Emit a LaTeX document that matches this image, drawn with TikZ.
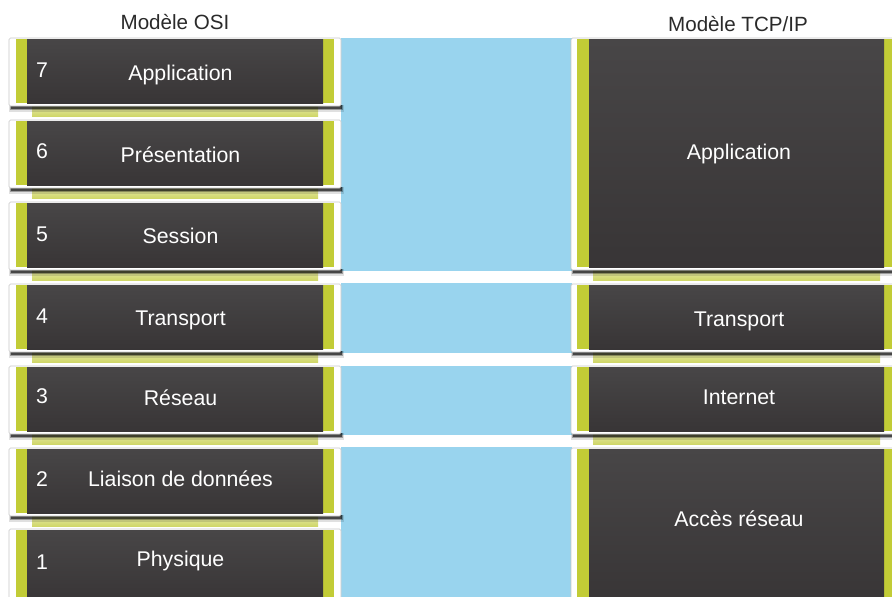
\documentclass[tikz,border=0pt]{standalone}
\usepackage{fontspec}
\setmainfont{Liberation Sans}
\begin{document}
\begin{tikzpicture}[x=1pt,y=-1pt,
  band/.style={fill=bandblue},
  lbl/.style={text=white,font=\fontsize{21.3}{25}\selectfont,inner sep=0pt,anchor=base},
  num/.style={lbl,anchor=base west},
  head/.style={text=headgray,font=\fontsize{20.6}{24}\selectfont,inner sep=0pt,anchor=base}]
\definecolor{bandblue}{HTML}{99D4EE}
\definecolor{lime}{HTML}{C2CC36}
\definecolor{shelf}{HTML}{C8D04E}
\definecolor{darktop}{HTML}{484647}
\definecolor{darkbot}{HTML}{383536}
\definecolor{headgray}{HTML}{2A2A2A}

\useasboundingbox (0,0) rectangle (892,597);
\fill[white] (0,0) rectangle (892,597);

% layer box: #1 outer left, #2 top, #3 outer right, #4 bottom,
% #5 green left, #6 dark left, #7 dark right, #8 green right
\newcommand\layerbox[8]{%
  \fill[black,opacity=.12] (#1,#4-1) rectangle (#3+3,#4+6);
  \fill[black,opacity=.30] (#1+1,#4-1) rectangle (#3+2,#4+4);
  \fill[black,opacity=.55] (#1+2,#4-1) rectangle (#3+1,#4+2.5);
  \fill[white,draw=black!22,line width=.6pt,rounded corners=1.5] (#1,#2) rectangle (#3,#4);
  \fill[lime] (#5,#2+1) rectangle (#8,#4-3);
  \shade[top color=darktop,bottom color=darkbot] (#6,#2+1) rectangle (#7,#4-3);
}
\newcommand\shelfstrip[4]{%
  \shade[top color=shelf!50!white,bottom color=shelf!85!white] (#1,#2) rectangle (#3,#4);
}

% blue bands between the two columns
\fill[band] (341,38) rectangle (572,271);
\fill[band] (341,283) rectangle (572,353);
\fill[band] (341,366) rectangle (572,435);
\fill[band] (341,447) rectangle (572,597);

% OSI column
\shelfstrip{32}{106}{318}{116}
\shelfstrip{32}{188}{318}{198}
\shelfstrip{32}{270}{318}{280}
\shelfstrip{32}{352}{318}{362}
\shelfstrip{32}{434}{318}{444}
\shelfstrip{32}{516}{318}{526}
\layerbox{9}{38}{341}{106}{16}{27}{323}{334}
\layerbox{9}{120}{341}{188}{16}{27}{323}{334}
\layerbox{9}{202}{341}{270}{16}{27}{323}{334}
\layerbox{9}{284}{341}{352}{16}{27}{323}{334}
\layerbox{9}{366}{341}{434}{16}{27}{323}{334}
\layerbox{9}{448}{341}{516}{16}{27}{323}{334}
\layerbox{9}{529}{341}{606}{16}{27}{323}{334}

% TCP/IP column
\shelfstrip{593}{270}{880}{280}
\shelfstrip{593}{352}{880}{362}
\shelfstrip{593}{434}{880}{444}
\layerbox{571}{38}{910}{270}{577}{589}{884}{910}
\layerbox{571}{284}{910}{352}{577}{589}{884}{910}
\layerbox{571}{366}{910}{434}{577}{589}{884}{910}
\layerbox{571}{448}{910}{606}{577}{589}{884}{910}

% headings
\node[head] (osi) at (175,29) {Modèle OSI};
\node[head] (tcp) at (738,31) {Modèle TCP/IP};

% OSI layer labels
\node[lbl] (o7) at (180.5,80) {Application};
\node[lbl] (o6) at (180.5,162) {Présentation};
\node[lbl] (o5) at (180.5,243) {Session};
\node[lbl] (o4) at (180.5,325) {Transport};
\node[lbl] (o3) at (180.5,405) {Réseau};
\node[lbl] (o2) at (180.5,486) {Liaison de données};
\node[lbl] (o1) at (180.5,566) {Physique};
\node[num] (n7) at (36,77) {7};
\node[num] (n6) at (36,158) {6};
\node[num] (n5) at (36,241) {5};
\node[num] (n4) at (36,323) {4};
\node[num] (n3) at (36,403) {3};
\node[num] (n2) at (36,486) {2};
\node[num] (n1) at (36,569) {1};

% TCP/IP layer labels
\node[lbl] (t4) at (739,159) {Application};
\node[lbl] (t3) at (739,326) {Transport};
\node[lbl] (t2) at (739,404) {Internet};
\node[lbl] (t1) at (739,526) {Accès réseau};
\end{tikzpicture}
\end{document}
